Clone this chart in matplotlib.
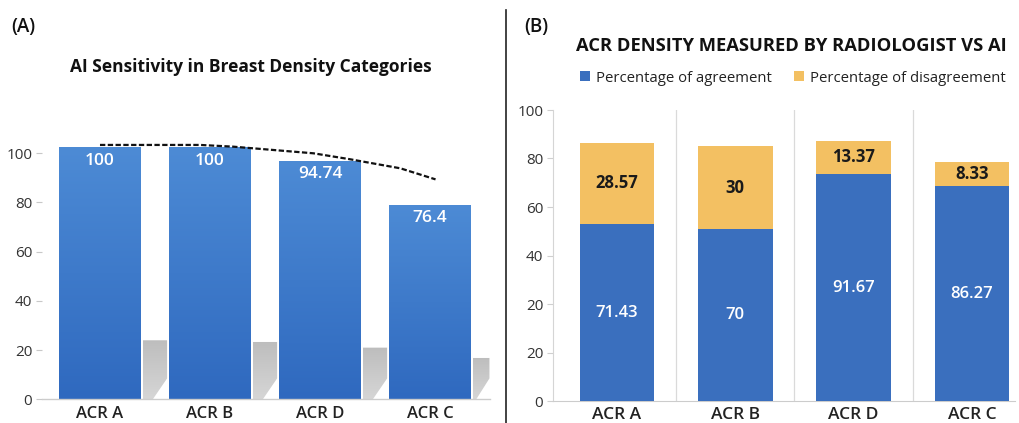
import numpy as np
import matplotlib
matplotlib.use('Agg')
import matplotlib.pyplot as plt
from matplotlib.patches import Polygon, Patch
from matplotlib.colors import LinearSegmentedColormap
from matplotlib.lines import Line2D

plt.rcParams['font.family'] = ['Open Sans', 'DejaVu Sans']

# ---------------- Panel A data ----------------
cats_a = ['ACR A', 'ACR B', 'ACR D', 'ACR C']
sens_labels = ['100', '100', '94.74', '76.4']
sens_heights = [102.4, 102.4, 96.9, 79.1]        # drawn bar heights
shadow_heights = [24.0, 23.3, 21.0, 16.8]
trend_x = [0, 0.91, 1.21, 1.94, 2.27, 2.73, 3.05]
trend_y = [103.4, 103.4, 102.7, 100.0, 97.6, 93.9, 89.4]
yticks_a = [0, 20, 40, 60, 80, 100]

# ---------------- Panel B data ----------------
cats_b = ['ACR A', 'ACR B', 'ACR D', 'ACR C']
agree_labels = ['71.43', '70', '91.67', '86.27']
disagree_labels = ['28.57', '30', '13.37', '8.33']
agree_heights = [60.8, 59.1, 78.0, 73.8]
disagree_heights = [28.0, 28.4, 11.5, 8.2]
ytick_labels_b = ['0', '20', '20', '40', '60', '80', '100']
legend_labels = ['Percentage of agreement', 'Percentage of disagreement']

W, H = 1019, 423
fig = plt.figure(figsize=(W / 100, H / 100), dpi=100)
fig.patch.set_facecolor('white')

def px_axes(l, r, t, b):
    return fig.add_axes([l / W, 1 - b / H, (r - l) / W, (b - t) / H])

# ================= Panel A =================
axA = px_axes(42, 490, 128.7, 399.3)
xa = np.arange(len(cats_a))
bw = 0.74
axA.set_xlim(-0.527, 3.545)
axA.set_ylim(0, 110)

bar_cmap = LinearSegmentedColormap.from_list('bar', ['#2f69bf', '#4d8bd5'])
shadow_cmap = LinearSegmentedColormap.from_list('sh', ['#d6d6d6', '#bdbdbd'])
grad = np.linspace(0, 1, 256).reshape(-1, 1)

for i, (x, h) in enumerate(zip(xa, sens_heights)):
    x0 = x + bw / 2 + 0.02
    x1 = (x + 1 - bw / 2 - 0.02) if i < len(xa) - 1 else 3.54
    sh = shadow_heights[i]
    cut_h, cut_w = 8.5, min(0.13, (x1 - x0) * 0.8)
    poly = Polygon([(x0, sh), (x1, sh), (x1, cut_h), (x1 - cut_w, 0), (x0, 0)],
                   closed=True, facecolor='none', edgecolor='none', zorder=1)
    axA.add_patch(poly)
    im = axA.imshow(grad, extent=(x0, x1, 0, sh), origin='lower', cmap=shadow_cmap,
                    aspect='auto', zorder=1, interpolation='bicubic')
    im.set_clip_path(poly)

bars = axA.bar(xa, sens_heights, width=bw, facecolor='none', edgecolor='none', zorder=2)
for rect, h in zip(bars, sens_heights):
    x0 = rect.get_x()
    im = axA.imshow(grad, extent=(x0, x0 + rect.get_width(), 0, h), origin='lower',
                    cmap=bar_cmap, aspect='auto', zorder=2, interpolation='bicubic')
    im.set_clip_path(rect)

for x, h, lab in zip(xa, sens_heights, sens_labels):
    axA.text(x, h - 5.5, lab, ha='center', va='center', color='white',
             fontsize=12.5, fontweight='semibold', zorder=4)

axA.plot(trend_x, trend_y, color='#111111', lw=1.6, linestyle=(0, (2.4, 1.1)), zorder=5)

axA.set_xticks(xa)
axA.set_xticklabels(cats_a, fontsize=12, fontweight='semibold', color='#222222')
axA.set_yticks(yticks_a)
axA.set_yticklabels([str(v) for v in yticks_a], fontsize=11, color='#333333')
axA.tick_params(axis='x', length=0, pad=5)
axA.tick_params(axis='y', length=4, color='#c8c8c8', pad=3)
for s in ['top', 'right', 'left']:
    axA.spines[s].set_visible(False)
axA.spines['bottom'].set_color('#cccccc')
axA.spines['bottom'].set_linewidth(1.0)
axA.set_facecolor('none')

fig.text(11 / W, 1 - 27 / H, '(A)', fontsize=13.5, fontweight='semibold', ha='left',
         va='center', color='#111111')
fig.text(251 / W, 1 - 67 / H, 'AI Sensitivity in Breast Density Categories',
         fontsize=12.5, fontweight='bold', ha='center', va='center', color='#111111')

# ================= Panel B =================
axB = px_axes(553, 1015, 110, 401)
xb = np.arange(len(cats_b))
bw2 = 0.63
axB.set_xlim(-0.541, 3.364)
axB.set_ylim(0, 100)

blue = '#3a6fbe'
yellow = '#f3c062'
axB.bar(xb, agree_heights, width=bw2, color=blue, zorder=3, label=legend_labels[0])
axB.bar(xb, disagree_heights, width=bw2, bottom=agree_heights, color=yellow, zorder=3,
        label=legend_labels[1])

for x, a, d, la, ld in zip(xb, agree_heights, disagree_heights, agree_labels, disagree_labels):
    axB.text(x, a / 2, la, ha='center', va='center', color='white',
             fontsize=12, fontweight='semibold', zorder=4)
    axB.text(x, a + d / 2, ld, ha='center', va='center', color='#1a1a1a',
             fontsize=12, fontweight='bold', zorder=4)

for xs in xb[:-1] + 0.5:
    axB.plot([xs, xs], [0, 100], color='#dadada', lw=0.9, zorder=1)

axB.set_xticks(xb)
axB.set_xticklabels(cats_b, fontsize=12.5, fontweight='semibold', color='#222222')
yt = np.linspace(0, 100, len(ytick_labels_b))
axB.set_yticks(yt)
axB.set_yticklabels(ytick_labels_b, fontsize=11, color='#333333')
axB.tick_params(axis='x', length=0, pad=4)
axB.tick_params(axis='y', length=4, color='#cfcfcf', pad=3)
for s in ['top', 'right']:
    axB.spines[s].set_visible(False)
axB.spines['left'].set_color('#d5d5d5')
axB.spines['bottom'].set_color('#cccccc')

fig.text(524 / W, 1 - 27 / H, '(B)', fontsize=13.5, fontweight='semibold', ha='left',
         va='center', color='#111111')
fig.text(791 / W, 1 - 46 / H, 'ACR DENSITY MEASURED BY RADIOLOGIST VS AI',
         fontsize=13.2, fontweight='bold', ha='center', va='center', color='#111111')

handles = [Patch(facecolor=blue, edgecolor='none'), Patch(facecolor=yellow, edgecolor='none')]
fig.legend(handles, legend_labels, ncol=2, frameon=False, loc='center',
           bbox_to_anchor=(793 / W, 1 - 78 / H), fontsize=10.7, handlelength=0.65,
           handleheight=0.65, handletextpad=0.4, columnspacing=1.5, labelcolor='#222222')

fig.add_artist(Line2D([506 / W, 506 / W], [0, 1 - 10 / H], color='#222222', lw=1.2))

fig.savefig('out.png', dpi=100, facecolor='white')
